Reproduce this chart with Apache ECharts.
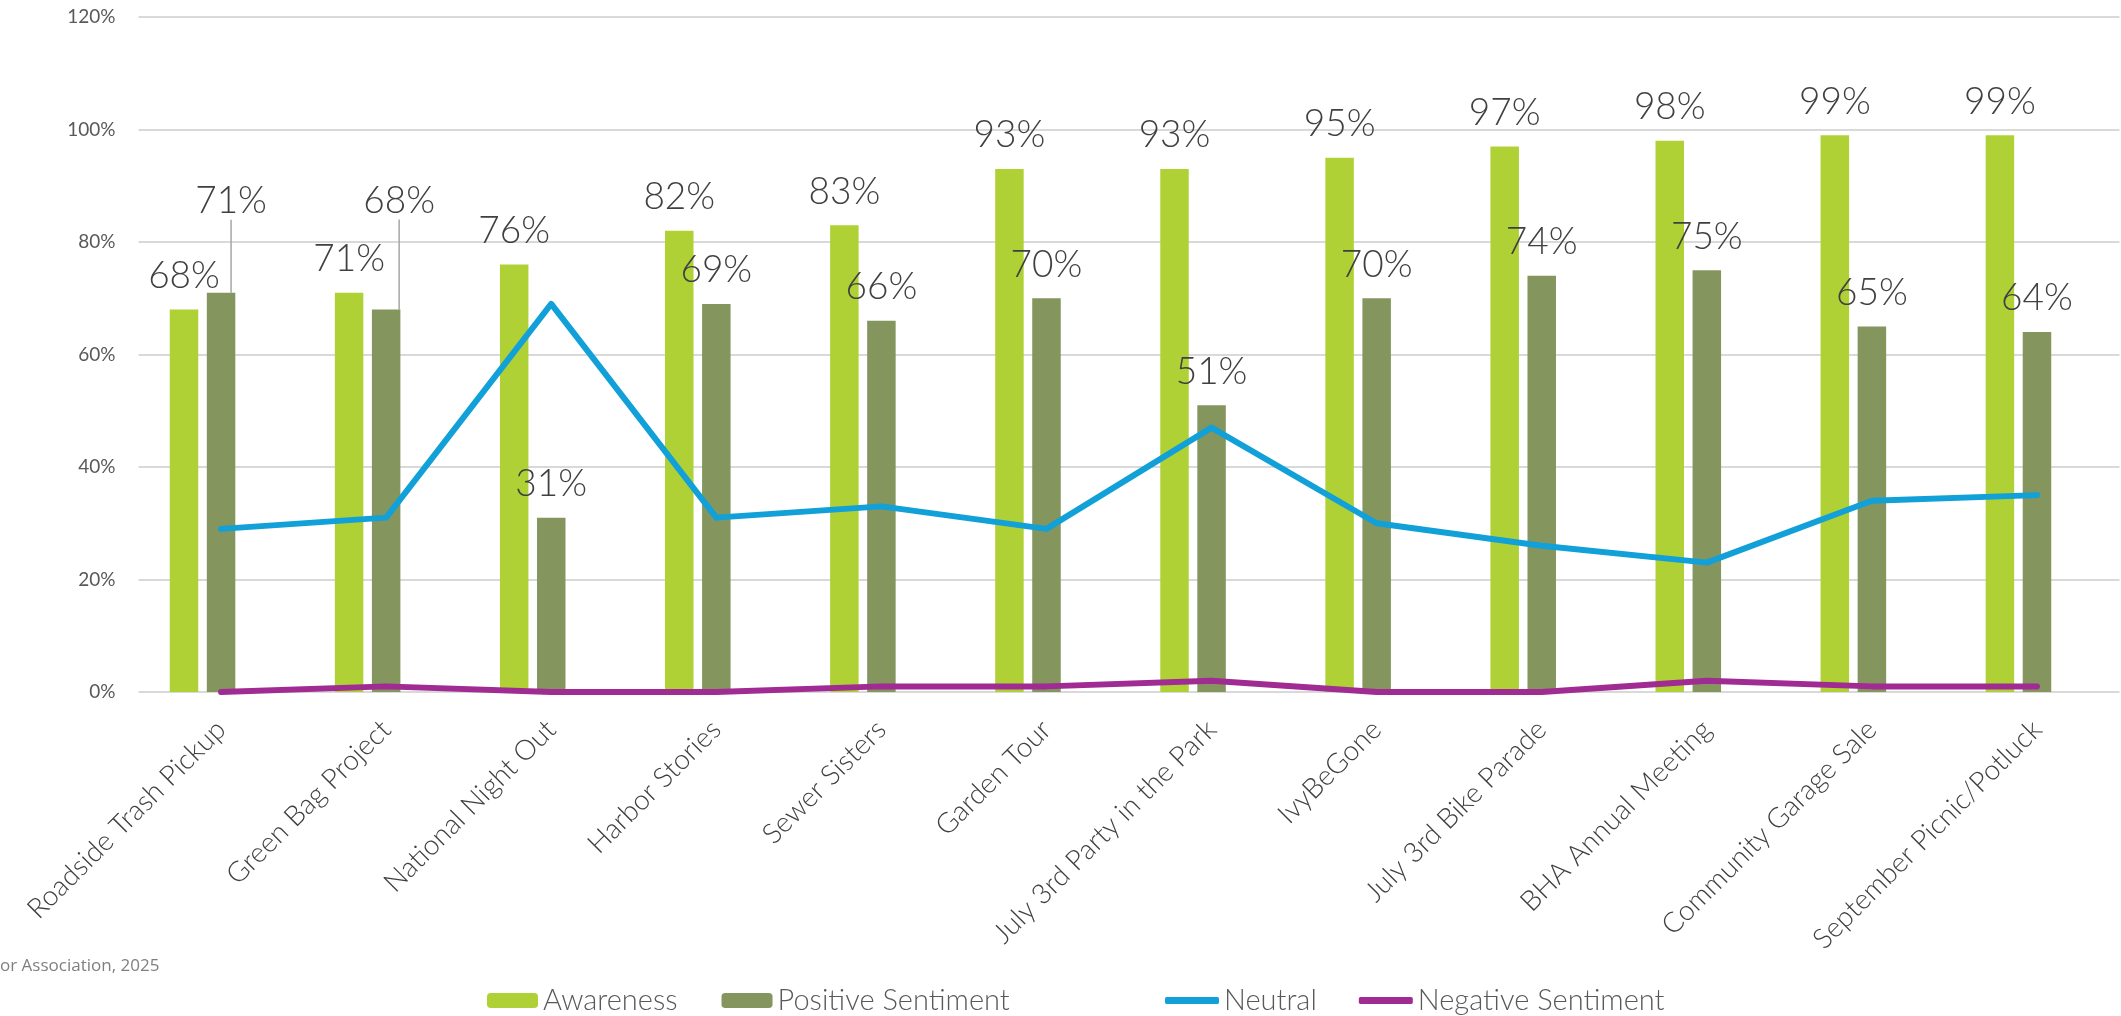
<!DOCTYPE html>
<html>
<head>
<meta charset="utf-8">
<script src="https://cdn.jsdelivr.net/npm/echarts@6/dist/echarts.min.js"></script>
<style>
  html, body { margin: 0; padding: 0; background: #fff; }
  #chart { width: 2121px; height: 1016px; }
</style>
</head>
<body>
<div id="chart"></div>
<script>
const categories = [
  "Roadside Trash Pickup", "Green Bag Project", "National Night Out", "Harbor Stories",
  "Sewer Sisters", "Garden Tour", "July 3rd Party in the Park", "IvyBeGone",
  "July 3rd Bike Parade", "BHA Annual Meeting", "Community Garage Sale", "September Picnic/Potluck"
];
const awareness = [68, 71, 76, 82, 83, 93, 93, 95, 97, 98, 99, 99];
const positive = [71, 68, 31, 69, 66, 70, 51, 70, 74, 75, 65, 64];
const neutral = [29, 31, 69, 31, 33, 29, 47, 30, 26, 23, 34, 35];
const negative = [0, 1, 0, 0, 1, 1, 2, 0, 0, 2, 1, 1];
const yMin = 0, yMax = 120, yStep = 20;
const footnote = "or Association, 2025";

const chart = echarts.init(document.getElementById("chart"));

const labelFont = "Lato";
const dataLabel = {
  show: true,
  position: "top",
  distance: 15,
  formatter: "{c}%",
  fontFamily: labelFont,
  fontWeight: 300,
  fontSize: 37,
  color: "#404040"
};

chart.setOption({
  backgroundColor: "#ffffff",
  animation: false,
  grid: [
    // bars
    { left: 120, right: 20, top: 17, bottom: 324 },
    // lines sit on the second bar of each group
    { left: 138.5, right: 1.5, top: 17, bottom: 324 }
  ],
  xAxis: [
    {
      type: "category", gridIndex: 0, data: categories,
      axisLine: { show: false }, axisTick: { show: false }, axisLabel: { show: false }, splitLine: { show: false }
    },
    {
      type: "category", gridIndex: 1, data: categories,
      axisLine: { show: false }, axisTick: { show: false }, splitLine: { show: false },
      axisLabel: {
        interval: 0, rotate: 45, margin: 33,
        fontFamily: labelFont, fontWeight: 300, fontSize: 28, color: "#404040"
      }
    }
  ],
  yAxis: [
    {
      type: "value", gridIndex: 0, min: yMin, max: yMax, interval: yStep,
      axisLine: { show: false }, axisTick: { show: false }, axisLabel: { show: false }, splitLine: { show: false }
    },
    {
      type: "value", gridIndex: 1, min: yMin, max: yMax, interval: yStep,
      axisLine: { show: false }, axisTick: { show: false },
      axisLabel: { formatter: "{value}%", margin: 23, fontFamily: labelFont, fontSize: 19, color: "#595959" },
      splitLine: { show: true, lineStyle: { color: "#D9D9D9", width: 2 } }
    }
  ],
  legend: [
    {
      data: ["Awareness", "Positive Sentiment"],
      left: 482, top: 981, itemWidth: 51, itemHeight: 15, itemGap: 44,
      textStyle: { fontFamily: labelFont, fontWeight: 300, fontSize: 29, color: "#595959" }
    },
    {
      data: ["Neutral", "Negative Sentiment"],
      left: 1160, top: 981, itemWidth: 54, itemHeight: 7, itemGap: 42,
      icon: "roundRect",
      textStyle: { fontFamily: labelFont, fontWeight: 300, fontSize: 29, color: "#595959" }
    }
  ],
  graphic: [
    {
      type: "text", left: 0, top: 958,
      style: { text: footnote, fontFamily: "Open Sans", fontSize: 17, fill: "#7F7F7F" }
    }
  ],
  series: [
    {
      name: "Awareness", type: "bar", xAxisIndex: 0, yAxisIndex: 0,
      barWidth: 28.5, barGap: "30%",
      itemStyle: { color: "#B0D136" },
      label: dataLabel,
      data: awareness
    },
    {
      name: "Positive Sentiment", type: "bar", xAxisIndex: 0, yAxisIndex: 0,
      barWidth: 28.5, barGap: "30%",
      itemStyle: { color: "#84955E" },
      label: dataLabel,
      labelLine: { show: false, lineStyle: { color: "#A6A6A6", width: 1.5 } },
      labelLayout: function (p) {
        // first two labels were dragged up in the original, with leader lines
        if (p.dataIndex === 0) return { dx: 10, dy: -58 };
        if (p.dataIndex === 1) return { dx: 13, dy: -75 };
        return {};
      },
      data: positive.map(function (v, i) {
        return i < 2 ? { value: v, labelLine: { show: true } } : v;
      })
    },
    {
      name: "Neutral", type: "line", xAxisIndex: 1, yAxisIndex: 1,
      symbol: "none", z: 5,
      itemStyle: { color: "#11A0D7" },
      lineStyle: { color: "#11A0D7", width: 6, cap: "round", join: "round" },
      data: neutral
    },
    {
      name: "Negative Sentiment", type: "line", xAxisIndex: 1, yAxisIndex: 1,
      symbol: "none", z: 5,
      itemStyle: { color: "#A02B93" },
      lineStyle: { color: "#A02B93", width: 6, cap: "round", join: "round" },
      data: negative
    }
  ]
});
</script>
</body>
</html>
